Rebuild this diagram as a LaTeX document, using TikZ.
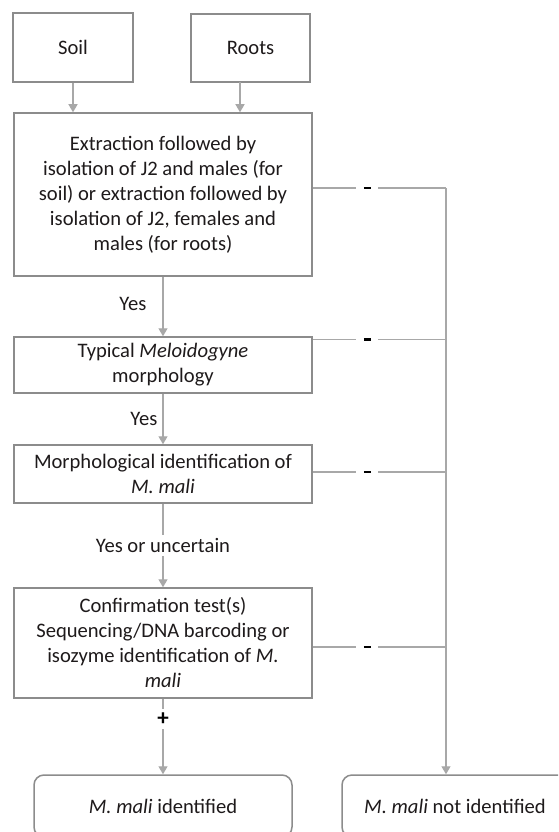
\documentclass[tikz,border=0pt]{standalone}
\usepackage{fontspec}
\setmainfont{Carlito}
\usetikzlibrary{arrows.meta}
\definecolor{boxc}{HTML}{8C8C8C}
\definecolor{linec}{HTML}{A8A8A8}
\definecolor{txt}{HTML}{1E1A1B}
\begin{document}
\begin{tikzpicture}[x=1pt,y=-1pt,
  box/.style={draw=boxc, line width=1.5pt, rectangle, align=center, text=txt,
    font=\fontsize{20.6}{25}\selectfont, inner sep=0pt},
  endbox/.style={box, rounded corners=10pt},
  conn/.style={draw=linec, line width=1.3pt},
  arr/.style={conn, -{Triangle[width=9pt,length=8pt,fill=linec]}},
  sign/.style={font=\fontsize{23}{23}\selectfont\bfseries, text=black, fill=white, inner sep=0pt, minimum width=22pt, minimum height=20pt},
  minus/.style={fill=white, inner sep=0pt, minimum width=22pt, minimum height=8pt},
  lab/.style={text=txt, font=\fontsize{20.6}{24}\selectfont, inner sep=2pt}]
\useasboundingbox (0,0) rectangle (558,832);
\clip (0,0) rectangle (558,832);
\fill[white] (0,0) rectangle (558,832);

\node[box, minimum width=120pt, minimum height=69pt] (soil) at (73,47.5) {Soil};
\node[box, minimum width=119pt, minimum height=68pt] (roots) at (250.5,48) {Roots};
\node[box, minimum width=298pt, minimum height=163pt] (main) at (163,194.5)
  {Extraction followed by\\isolation of J2 and males (for\\soil) or extraction followed by\\isolation of J2, females and\\males (for roots)};
\node[box, minimum width=298pt, minimum height=56pt] (typ) at (163,365)
  {Typical \textit{Meloidogyne}\\morphology};
\node[box, minimum width=298pt, minimum height=58pt] (morph) at (163,474)
  {Morphological identification of\\\textit{M. mali}};
\node[box, minimum width=298pt, minimum height=110pt] (conf) at (163,643)
  {Confirmation test(s)\\Sequencing/DNA barcoding or\\isozyme identification of \textit{M.}\\\textit{mali}};
\node[endbox, minimum width=258pt, minimum height=62pt] (idf) at (163,806)
  {\textit{M. mali} identified};
\node[endbox, minimum width=226pt, minimum height=62pt] (nidf) at (455,806)
  {\textit{M. mali} not identified};

\coordinate (rs) at (240,82);
\coordinate (a1) at ([yshift=6.5pt]main.east);
\coordinate (a2) at ([yshift=-3pt]typ.north east);
\coordinate (a3) at ([yshift=2pt]morph.east);
\coordinate (a4) at ([yshift=-4pt]conf.east);
\coordinate (r1) at (446,188);
\coordinate (r2) at (r1 |- a2);
\coordinate (r3) at (r1 |- a3);
\coordinate (r4) at (r1 |- a4);

% top arrows
\draw[arr] (soil.south) -- (soil.south |- main.north);
\draw[arr] (rs) -- (rs |- main.north);

% main column
\draw[arr] (main.south) -- node[lab, pos=0.45, left=14pt] {Yes} (typ.north);
\draw[arr] (typ.south) -- node[lab, left=3pt] {Yes} (morph.north);
\draw[arr] (morph.south) -- node[lab, fill=white, inner sep=3pt] {Yes or uncertain} (conf.north);
\draw[arr] (conf.south) -- node[sign, pos=0.27] {+} (idf.north);

% negative branches
\draw[conn] (a1) -- node[minus, pos=0.41] {\rule{7pt}{2.8pt}} (r1);
\draw[conn] (a2) -- node[minus, pos=0.41] {\rule{7pt}{2.8pt}} (r2);
\draw[conn] (a3) -- node[minus, pos=0.41] {\rule{7pt}{2.8pt}} (r3);
\draw[conn] (a4) -- node[minus, pos=0.41] {\rule{7pt}{2.8pt}} (r4);
\draw[arr] (r1) -- (r1 |- nidf.north);
\end{tikzpicture}
\end{document}
